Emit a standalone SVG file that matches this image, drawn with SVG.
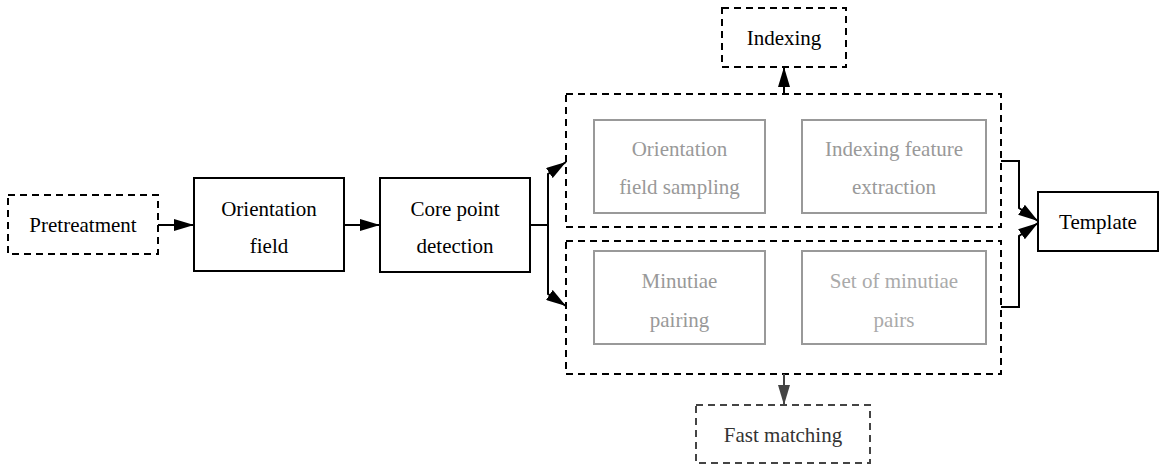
<svg xmlns="http://www.w3.org/2000/svg" width="1162" height="466" viewBox="0 0 1162 466">
<style>
.solid{fill:#fff;stroke:#000;stroke-width:2}
.dash{fill:none;stroke:#000;stroke-width:2;stroke-dasharray:7,5}
.dashg{fill:none;stroke:#444;stroke-width:2;stroke-dasharray:7,5}
.inner{fill:none;stroke:#999;stroke-width:2}
.gt{fill:#999}
.gt2{fill:#aaa}
.conn{fill:none;stroke:#000;stroke-width:2}
.conng{fill:none;stroke:#444;stroke-width:2}
</style>
<defs>
<marker id="ah" markerUnits="userSpaceOnUse" markerWidth="20" markerHeight="12" refX="20" refY="6" orient="auto"><path d="M0,0 L20,6 L0,12 z" fill="#000"/></marker>
<marker id="ahg" markerUnits="userSpaceOnUse" markerWidth="20" markerHeight="12" refX="20" refY="6" orient="auto"><path d="M0,0 L20,6 L0,12 z" fill="#444"/></marker>
</defs>
<rect width="1162" height="466" fill="#fff"/>
<g font-family="Liberation Serif" font-size="21" text-anchor="middle">
<g id="pretreatment"><rect class="dash" x="8" y="195" width="150" height="59"/><text x="83" y="232">Pretreatment</text></g>
<g id="orientation-field"><rect class="solid" x="194" y="178" width="150" height="93"/><text x="269" y="216">Orientation</text><text x="269" y="253">field</text></g>
<g id="core-point"><rect class="solid" x="380" y="178" width="150" height="94"/><text x="455" y="216">Core point</text><text x="455" y="253">detection</text></g>
<g id="indexing-group"><rect class="dash" x="566" y="94" width="435" height="133"/></g>
<g id="matching-group"><rect class="dash" x="566" y="241" width="435" height="133"/></g>
<g id="orientation-sampling"><rect class="inner" x="594" y="120" width="171" height="93"/><text class="gt" x="679.5" y="156">Orientation</text><text class="gt" x="679.5" y="194">field sampling</text></g>
<g id="indexing-feature"><rect class="inner" x="802" y="120" width="184" height="93"/><text class="gt" x="894" y="156">Indexing feature</text><text class="gt" x="894" y="194">extraction</text></g>
<g id="minutiae-pairing"><rect class="inner" x="594" y="251" width="171" height="93"/><text class="gt" x="679.5" y="288">Minutiae</text><text class="gt" x="679.5" y="327">pairing</text></g>
<g id="minutiae-pairs"><rect class="inner" x="802" y="251" width="184" height="93"/><text class="gt2" x="894" y="288">Set of minutiae</text><text class="gt2" x="894" y="327">pairs</text></g>
<g id="indexing"><rect class="dash" x="722" y="8" width="124" height="59"/><text x="784" y="45">Indexing</text></g>
<g id="fast-matching"><rect class="dashg" x="696" y="405" width="174" height="58"/><text x="783" y="442" fill="#333">Fast matching</text></g>
<g id="template"><rect class="solid" x="1038" y="192" width="120" height="59"/><text x="1098" y="229">Template</text></g>
</g>
<g id="connectors">
<path class="conn" d="M158 225 H194" marker-end="url(#ah)"/>
<path class="conn" d="M344 225 H380" marker-end="url(#ah)"/>
<path class="conn" d="M530 225 H548"/>
<path class="conn" d="M548 225 V174 L566 162" marker-end="url(#ah)"/>
<path class="conn" d="M548 225 V294 L566 306" marker-end="url(#ah)"/>
<path class="conn" d="M784 94 V67" marker-end="url(#ah)"/>
<path class="conng" d="M784 374 V405" marker-end="url(#ahg)"/>
<path class="conn" d="M1001 161 H1019 V208 L1038 221" marker-end="url(#ah)"/>
<path class="conn" d="M1001 307 H1019 V236 L1038 223" marker-end="url(#ah)"/>
</g>
</svg>
